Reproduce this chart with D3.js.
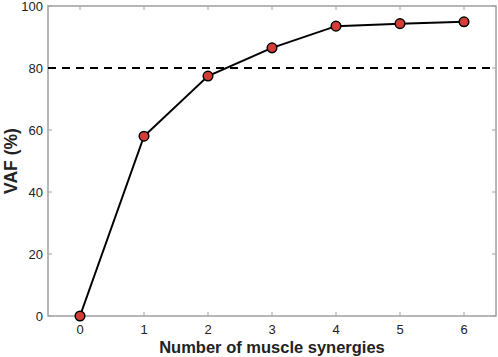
<!DOCTYPE html>
<html>
<head>
<meta charset="utf-8">
<script src="https://cdn.jsdelivr.net/npm/d3@7"></script>
<style>
  body { margin: 0; background: #fff; }
  text { font-family: "Liberation Sans", Arial, sans-serif; }
</style>
</head>
<body>
<div id="chart"></div>
<script>
const synergies = [0, 1, 2, 3, 4, 5, 6];
const vaf = [0, 58, 77.4, 86.5, 93.5, 94.3, 94.9];
const yTicks = [0, 20, 40, 60, 80, 100];
const threshold = 80;

const W = 498, H = 357;
const margin = { top: 6, right: 2, bottom: 41, left: 48 };
const w = W - margin.left - margin.right;
const h = H - margin.top - margin.bottom;

const svg = d3.select("#chart").append("svg")
  .attr("width", W).attr("height", H);
const g = svg.append("g").attr("transform", `translate(${margin.left},${margin.top})`);

const x = d3.scaleLinear().domain([-0.5, 6.5]).range([0, w]);
const y = d3.scaleLinear().domain([0, 100]).range([h, 0]);

const axisColor = "#a0a0a0";

// frame
g.append("rect").attr("width", w).attr("height", h)
  .attr("fill", "none").attr("stroke", axisColor).attr("stroke-width", 1.5);

// ticks (inward, all four sides)
const tl = 4;
g.selectAll(".xt").data(synergies).join("line")
  .attr("x1", d => x(d)).attr("x2", d => x(d)).attr("y1", h).attr("y2", h - tl)
  .attr("stroke", axisColor);
g.selectAll(".xtt").data(synergies).join("line")
  .attr("x1", d => x(d)).attr("x2", d => x(d)).attr("y1", 0).attr("y2", tl)
  .attr("stroke", axisColor);
g.selectAll(".yt").data(yTicks).join("line")
  .attr("x1", 0).attr("x2", tl).attr("y1", d => y(d)).attr("y2", d => y(d))
  .attr("stroke", axisColor);
g.selectAll(".ytr").data(yTicks).join("line")
  .attr("x1", w).attr("x2", w - tl).attr("y1", d => y(d)).attr("y2", d => y(d))
  .attr("stroke", axisColor);

// tick labels
g.selectAll(".xl").data(synergies).join("text")
  .attr("x", d => x(d)).attr("y", h + 18)
  .attr("text-anchor", "middle").attr("font-size", 13).attr("fill", "#222")
  .text(d => d);
g.selectAll(".yl").data(yTicks).join("text")
  .attr("x", -5).attr("y", d => y(d)).attr("dy", "0.35em")
  .attr("text-anchor", "end").attr("font-size", 13).attr("fill", "#222")
  .text(d => d);

// axis titles
g.append("text")
  .attr("x", w / 2).attr("y", h + 37)
  .attr("text-anchor", "middle").attr("font-size", 16.5).attr("font-weight", "bold")
  .attr("fill", "#222")
  .text("Number of muscle synergies");
g.append("text")
  .attr("transform", `translate(${-31},${h / 2}) rotate(-90)`)
  .attr("text-anchor", "middle").attr("font-size", 17.5).attr("font-weight", "bold")
  .attr("fill", "#222")
  .text("VAF (%)");

// threshold
g.append("line")
  .attr("x1", 0).attr("x2", w).attr("y1", y(threshold)).attr("y2", y(threshold))
  .attr("stroke", "#000").attr("stroke-width", 2).attr("stroke-dasharray", "8,6");

// curve
const pts = synergies.map((s, i) => ({ s, v: vaf[i] }));
g.append("path").datum(pts)
  .attr("fill", "none").attr("stroke", "#000").attr("stroke-width", 2)
  .attr("d", d3.line().x(d => x(d.s)).y(d => y(d.v)));

g.selectAll(".pt").data(pts).join("circle")
  .attr("cx", d => x(d.s)).attr("cy", d => y(d.v)).attr("r", 4.8)
  .attr("fill", "#d63c36").attr("stroke", "#000").attr("stroke-width", 1.5);
</script>
</body>
</html>
